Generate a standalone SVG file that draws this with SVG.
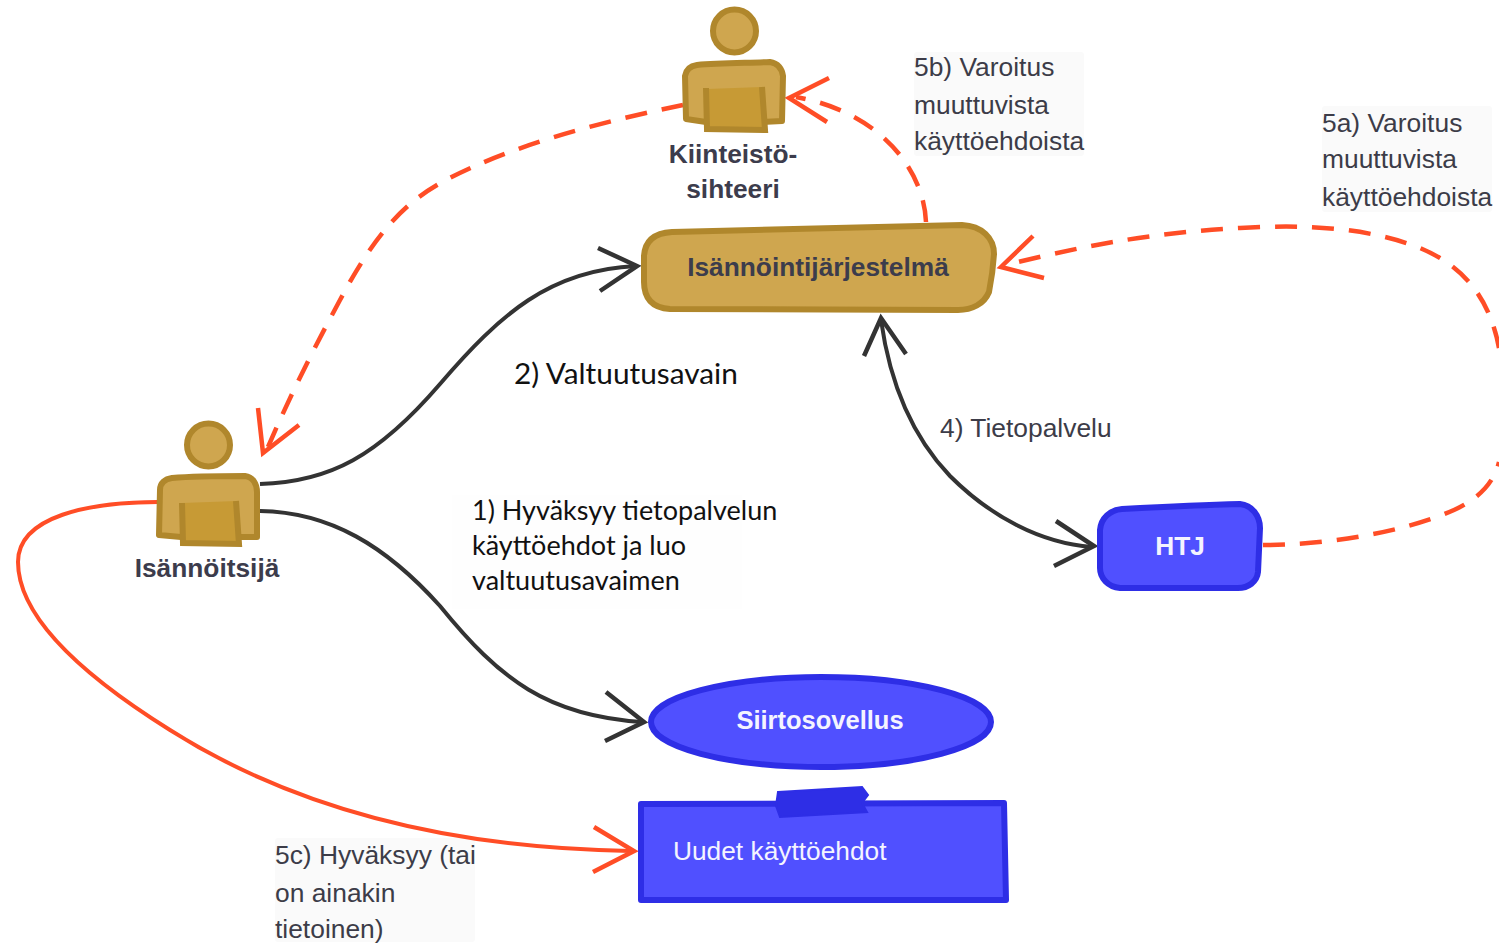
<svg xmlns="http://www.w3.org/2000/svg" width="1499" height="943" viewBox="0 0 1499 943">
<style>
.g{fill:#cfa64f;stroke:#b0872c;stroke-width:6;stroke-linejoin:round}
.gi{fill:#c79a35;stroke:none}
.gs{fill:none;stroke:#b0872c;stroke-width:6;stroke-linejoin:miter}
.b{fill:#5050ff;stroke:#2e2ee6;stroke-width:6;stroke-linejoin:round}
.c{fill:none;stroke-linecap:butt}
.k{stroke:#333;stroke-width:4}
.r{stroke:#ff4d26;stroke-width:4.500}
.d{stroke-dasharray:22 15}
.h{fill:none;stroke-width:4.500;stroke-linecap:butt;stroke-linejoin:miter}
.t{font-family:"Liberation Sans",Arial,sans-serif;font-size:26.400px;fill:#3c3c48}
.nb{font-family:"Liberation Sans",Arial,sans-serif;font-size:26.300px;font-weight:bold;fill:#3c3c4c}
.w{font-family:"Liberation Sans",Arial,sans-serif;font-size:26.300px;fill:#f4f4ff}
.cal{font-family:Lato,"Liberation Sans",sans-serif;font-size:27px;fill:#111}
.bg{fill:#fafafa;stroke:none}
</style>
<rect width="1499" height="943" fill="#fff"/>
<g id="label-backgrounds">
<rect class="bg" x="914" y="52" width="170" height="104" rx="3"/>
<rect class="bg" x="1322" y="106" width="170" height="106" rx="3"/>
<rect class="bg" x="275" y="838" width="200" height="104" rx="3"/>
<rect x="452" y="495" width="290" height="114" fill="#fefefe"/>
</g>
<g id="connectors">
<path class="c k" d="M260 484C330 482 378 456 440 384C500 314 550 270 636 266"/>
<path class="h" stroke="#333" d="M598 248L637 266L600 291"/>
<path class="c k" d="M260 511C330 512 386 546 440 606C500 680 548 716 642 722"/>
<path class="h" stroke="#333" d="M606 692L644 722L605 741"/>
<path class="c k" d="M881 320C888 370 906 430 950 476C990 516 1040 543 1092 547"/>
<path class="h" stroke="#333" d="M864 356L881 318L906 354"/>
<path class="h" stroke="#333" d="M1056 521L1094 546L1054 566"/>
<path class="c r d" d="M926 222C924 170 880 112 796 97"/>
<path class="h" stroke="#ff4d26" d="M829 78L789 98L827 122"/>
<path class="c r d" d="M683 105C600 122 510 146 446 180C400 204 372 240 340 300C312 352 290 396 268 447"/>
<path class="h" stroke="#ff4d26" d="M258 408L263 453L299 425"/>
<path class="c r d" d="M1263 545C1320 545 1400 534 1454 510C1480 498 1494 482 1499 462"/>
<path class="c r d" d="M1499 348C1490 300 1465 265 1415 246C1365 228 1310 224 1240 228C1160 232 1090 244 1006 265"/>
<path class="h" stroke="#ff4d26" d="M1033 236L1001 267L1044 278"/>
<path class="c" stroke="#ff4d26" stroke-width="4" d="M158 502C90 502 18 516 18 562C18 620 90 680 170 730C290 806 440 848 630 851"/>
<path class="h" stroke="#ff4d26" d="M594 827L634 851L593 872"/>
</g>
<g id="kiinteistosihteeri">
<circle class="g" cx="734.500" cy="31" r="21.500"/>
<path class="g" d="M697 65C720 63 750 63 770 62C778 63 782 69 783 76L782 121L762 122L706 122L686 119L685 76C686 70 690 66 697 65Z"/>
<path class="gi" d="M707 89L762 87L764 129L707 129Z"/>
<path class="gs" d="M706 88L707 129L765 130L762 87"/>
<text class="nb" x="733" y="163" text-anchor="middle">Kiinteistö-</text>
<text class="nb" x="733" y="198" text-anchor="middle">sihteeri</text>
</g>
<g id="isannointijarjestelma">
<path class="g" d="M672 232C760 229 860 227 962 225C982 226 994 238 994 254C993 270 991 282 989 292C984 304 972 310 958 310L670 309C652 308 644 298 644 282L644 256C645 240 655 233 672 232Z"/>
<text class="nb" x="818" y="276" text-anchor="middle" fill="#33333f">Isännöintijärjestelmä</text>
</g>
<g id="isannoitsija">
<circle class="g" cx="208.500" cy="445" r="21.500"/>
<path class="g" d="M172 478C195 476 225 476 245 476C253 477 257 484 257 492L257 537L238 537L181 537L159 535L160 490C160 483 165 479 172 478Z"/>
<path class="gi" d="M182 503L237 501L239 543L182 543Z"/>
<path class="gs" d="M182 503L183 543L239 544L236 501"/>
<text class="nb" x="207" y="577" text-anchor="middle">Isännöitsijä</text>
</g>
<g id="htj">
<path class="b" d="M1122 509C1160 507 1200 505 1240 504C1252 505 1260 516 1260 528L1258 572C1257 582 1248 588 1238 588L1120 588C1108 587 1100 578 1100 568L1100 530C1101 518 1110 510 1122 509Z"/>
<text class="w" x="1180" y="555" text-anchor="middle" style="font-weight:bold">HTJ</text>
</g>
<g id="siirtosovellus">
<ellipse class="b" cx="821" cy="722" rx="170" ry="45"/>
<text class="w" x="820" y="729" text-anchor="middle" style="font-weight:bold;font-size:25.500px">Siirtosovellus</text>
</g>
<g id="uudet-kayttoehdot">
<path class="b" d="M641 804L1004 803L1006 900L641 900Z"/>
<path fill="#2e2ee6" stroke="#2e2ee6" stroke-width="2" d="M778 792L862 787L868 795L862 803L867 812L780 817L776 806Z"/>
<text class="w" x="673" y="860">Uudet käyttöehdot</text>
</g>
<g id="labels">
<text class="t" x="914" y="76">5b) Varoitus</text>
<text class="t" x="914" y="114">muuttuvista</text>
<text class="t" x="914" y="150">käyttöehdoista</text>
<text class="t" x="1322" y="132">5a) Varoitus</text>
<text class="t" x="1322" y="168">muuttuvista</text>
<text class="t" x="1322" y="206">käyttöehdoista</text>
<text class="t" x="940" y="437">4) Tietopalvelu</text>
<text class="t" x="275" y="864">5c) Hyväksyy (tai</text>
<text class="t" x="275" y="902">on ainakin</text>
<text class="t" x="275" y="938">tietoinen)</text>
<text class="cal" x="514" y="384" style="font-size:29.800px">2) Valtuutusavain</text>
<text class="cal" x="472" y="520">1) Hyväksyy tietopalvelun</text>
<text class="cal" x="472" y="555">käyttöehdot ja luo</text>
<text class="cal" x="472" y="590">valtuutusavaimen</text>
</g>
</svg>
